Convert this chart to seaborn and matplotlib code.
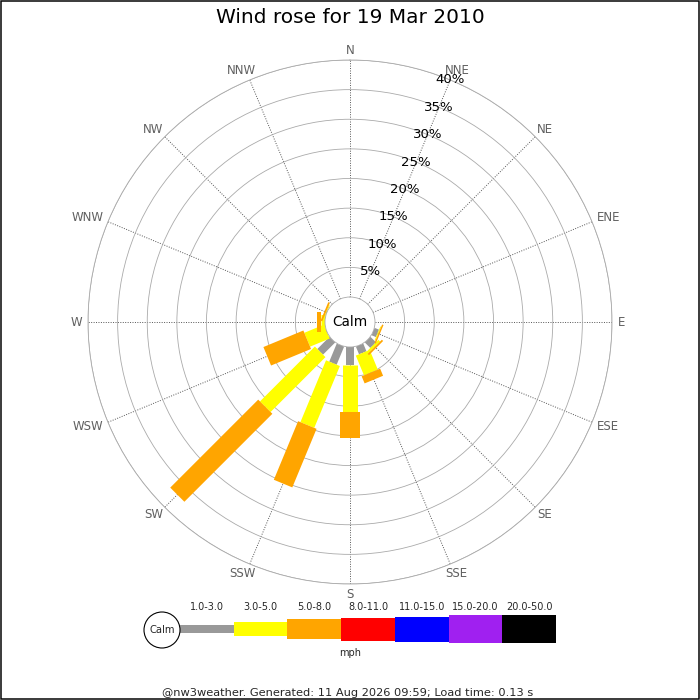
import numpy as np
import pandas as pd
import matplotlib
matplotlib.use('Agg')
import matplotlib.pyplot as plt
from matplotlib.patches import Circle, Rectangle
import seaborn as sns

# wind directions, clockwise from north
directions = ['N', 'NNE', 'NE', 'ENE', 'E', 'ESE', 'SE', 'SSE',
              'S', 'SSW', 'SW', 'WSW', 'W', 'WNW', 'NW', 'NNW']

# % of time in each speed class (mph)
spd_1_3 = [0, 0, 0, 0, 0, 0.8, 1.3, 1.4, 3.0, 3.3, 2.9, 0, 0, 0, 0, 0]
spd_3_5 = [0, 0, 0, 0, 0, 0.15, 0.4, 3.6, 7.9, 11.3, 13.1, 3.6, 0.7, 0.15, 0, 0]
spd_5_8 = [0, 0, 0, 0, 0, 0.25, 0.3, 1.3, 4.5, 10.7, 21.0, 7.3, 0.7, 0.3, 0, 0]

speed_classes = ['1.0-3.0', '3.0-5.0', '5.0-8.0', '8.0-11.0',
                 '11.0-15.0', '15.0-20.0', '20.0-50.0']
class_colors = ['#999999', '#ffff00', '#ffa500', '#ff0000',
                '#0000ff', '#a020f0', '#000000']
pct_ticks = [5, 10, 15, 20, 25, 30, 35, 40]

title = 'Wind rose for 19 Mar 2010'
footer = '@nw3weather. Generated: 11 Aug 2026 09:59; Load time: 0.13 s'

# geometry in pixels (figure is 700x700 at dpi 100)
CX, CY = 350, 322
RADIUS = 262
CALM_R = 25
PX_PER_PCT = (RADIUS - CALM_R) / pct_ticks[-1]
PT = 0.72  # points per pixel

sns.set_style('white')
plt.rcParams['font.family'] = 'DejaVu Sans'
plt.rcParams['lines.solid_capstyle'] = 'butt'

# long table: one row per end of each stacked segment
rows = []
for i, d in enumerate(directions):
    theta = np.deg2rad(i * 22.5)
    base = 0.0
    for cls, vals in zip(speed_classes, [spd_1_3, spd_3_5, spd_5_8]):
        v = vals[i]
        if v > 0:
            seg = d + ' ' + cls
            rows.append(dict(theta=theta, r=base, speed=cls, seg=seg))
            rows.append(dict(theta=theta, r=base + v, speed=cls, seg=seg))
        base += v
df = pd.DataFrame(rows)

used = speed_classes[:3]
seg_px = [8, 15, 20]

fig = plt.figure(figsize=(7, 7), dpi=100)
ax = fig.add_axes([(CX - RADIUS) / 700, (700 - CY - RADIUS) / 700,
                   2 * RADIUS / 700, 2 * RADIUS / 700], projection='polar')
ax.set_theta_zero_location('N')
ax.set_theta_direction(-1)

sns.lineplot(data=df, x='theta', y='r', hue='speed', size='speed',
             hue_order=used, size_order=used,
             palette=dict(zip(used, class_colors[:3])),
             sizes=dict(zip(used, [w * PT for w in seg_px])),
             units='seg', estimator=None, sort=False, legend=False,
             solid_capstyle='butt', ax=ax)

ax.set_ylim(0, pct_ticks[-1])
ax.set_rorigin(-CALM_R / PX_PER_PCT)
ax.set_xlabel('')
ax.set_ylabel('')
ax.set_xticks(np.deg2rad(np.arange(16) * 22.5))
ax.set_xticklabels([])
ax.set_yticks(pct_ticks)
ax.set_yticklabels([])
ax.tick_params(length=0)
ax.xaxis.grid(True, color='#555555', linestyle=(0, (1, 1.5)), linewidth=0.7)
ax.yaxis.grid(True, color='#aaaaaa', linestyle='-', linewidth=0.6)
ax.spines['polar'].set_color('#aaaaaa')
ax.spines['polar'].set_linewidth(0.6)
ax.spines['inner'].set_color('#aaaaaa')
ax.spines['inner'].set_linewidth(0.6)

# percentage labels along the NNE line
for p in pct_ticks:
    ax.text(np.deg2rad(22.5), p, f'{p}%', ha='center', va='center',
            fontsize=9.5, color='black', zorder=5)

ax.text(0.5, 0.5, 'Calm', transform=ax.transAxes, ha='center',
        va='center', fontsize=9.8, color='black')

# compass labels pushed out by their own size
renderer = fig.canvas.get_renderer()
for i, d in enumerate(directions):
    th = np.deg2rad(i * 22.5)
    t = ax.annotate(d, xy=(th, pct_ticks[-1]), xytext=(0, 0),
                    textcoords='offset pixels', ha='center', va='center',
                    fontsize=8.5, color='#606060', annotation_clip=False)
    bb = t.get_window_extent(renderer)
    dx = (6 + bb.width / 2) * np.sin(th)
    dy = (3.5 + bb.height / 2) * np.cos(th)
    t.set_position((dx, dy))

fig.text(0.5, 1 - 23.3 / 700, title, ha='center', va='baseline',
         fontsize=14.5, color='black')

# legend strip, footer and frame in pixel coordinates
lax = fig.add_axes([0, 0, 1, 1])
lax.set_xlim(0, 700)
lax.set_ylim(700, 0)
lax.axis('off')

leg_left, leg_w, leg_y = 180, 53.7, 629
leg_h = np.array([8, 14, 20.6, 23, 25, 27.3, 28.3])
lefts = leg_left + np.arange(len(speed_classes)) * leg_w
lax.bar(lefts, leg_h, width=leg_w, bottom=leg_y - leg_h / 2, align='edge',
        color=class_colors, linewidth=0)
for x, cls in zip(lefts, speed_classes):
    lax.text(x + leg_w / 2, 607, cls, ha='center', va='center', fontsize=7)
lax.text(350, 653, 'mph', ha='center', va='center', fontsize=7)
lax.add_patch(Circle((162, 630), 18, facecolor='white', edgecolor='black',
                     linewidth=0.8))
lax.text(162, 630, 'Calm', ha='center', va='center', fontsize=7.2)

lax.text(348, 692.5, footer, ha='center', va='center', fontsize=8.2)
lax.add_patch(Rectangle((0.75, 0.75), 698.5, 698.5, fill=False,
                        edgecolor='black', linewidth=1.5 * PT, clip_on=False))

fig.savefig('out.png', dpi=100)
